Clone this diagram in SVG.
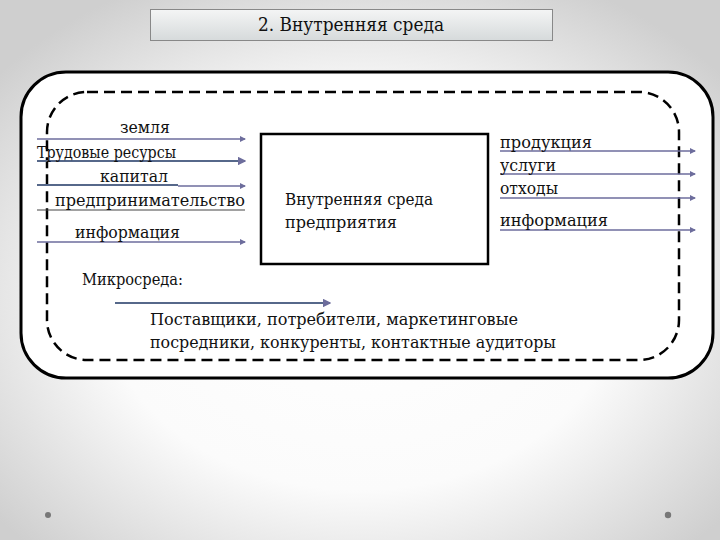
<svg xmlns="http://www.w3.org/2000/svg" width="720" height="540" viewBox="0 0 720 540">
<defs>
<radialGradient id="bg" cx="50%" cy="55%" r="65%">
<stop offset="0" stop-color="#ffffff"/>
<stop offset="0.55" stop-color="#fbfbfb"/>
<stop offset="1" stop-color="#cfcfcf"/>
</radialGradient>
<linearGradient id="tg" x1="0" y1="0" x2="0" y2="1">
<stop offset="0" stop-color="#f4f5f5"/>
<stop offset="1" stop-color="#d6dadb"/>
</linearGradient>
<marker id="ah" viewBox="0 0 6 6" refX="5" refY="3" markerWidth="4" markerHeight="4" orient="auto">
<path d="M0,0 L6,3 L0,6 z" fill="#6d6d9c"/>
</marker>
<style>
.ln{stroke:#6d6d9c;stroke-width:1.5;fill:none;}
.lnd{stroke:#56688a;stroke-width:2.2;fill:none;}
</style>
</defs>
<rect width="720" height="540" fill="url(#bg)"/>
<circle cx="48" cy="515" r="3" fill="#777"/>
<circle cx="668" cy="515" r="3.2" fill="#777"/>

<g font-family="'DejaVu Serif', 'Liberation Serif', serif" fill="#111">
<g id="title">
<rect x="150.5" y="9.5" width="402" height="31" fill="url(#tg)" stroke="#888" stroke-width="1"/>
<text x="351" y="31" text-anchor="middle" font-size="19" textLength="186" lengthAdjust="spacingAndGlyphs" fill="#111">2. Внутренняя среда</text>
</g>

<g id="outer">
<rect x="21" y="72" width="692" height="306" rx="45" fill="#fff" stroke="#000" stroke-width="3"/>
</g>
<g id="micro-border">
<rect x="47" y="92" width="632" height="268" rx="40" fill="none" stroke="#000" stroke-width="2.5" stroke-dasharray="11,6"/>
</g>

<g id="enterprise" font-size="16">
<rect x="261" y="134" width="227" height="130" fill="#fff" stroke="#000" stroke-width="2.5"/>
<text x="285" y="205" textLength="148" lengthAdjust="spacingAndGlyphs">Внутренняя среда</text>
<text x="285" y="228" textLength="112" lengthAdjust="spacingAndGlyphs">предприятия</text>
</g>

<g id="connectors">
<line class="ln" x1="37" y1="139" x2="245" y2="139" marker-end="url(#ah)"/>
<line class="lnd" x1="37" y1="161" x2="245" y2="161" marker-end="url(#ah)"/>
<line class="lnd" x1="37" y1="185" x2="178" y2="185"/>
<line class="ln" x1="178" y1="186" x2="245" y2="186" marker-end="url(#ah)"/>
<line x1="37" y1="210" x2="245" y2="210" stroke="#444" stroke-width="1.2"/>
<line class="ln" x1="37" y1="242" x2="245" y2="242" marker-end="url(#ah)"/>
<line class="ln" x1="500" y1="151" x2="695" y2="151" marker-end="url(#ah)"/>
<line class="ln" x1="500" y1="174" x2="695" y2="174" marker-end="url(#ah)"/>
<line class="ln" x1="500" y1="198" x2="695" y2="198" marker-end="url(#ah)"/>
<line class="ln" x1="500" y1="230" x2="695" y2="230" marker-end="url(#ah)"/>
<line class="lnd" x1="115" y1="303" x2="330" y2="303" marker-end="url(#ah)"/>
</g>

<g id="inputs" font-size="16">
<text x="120" y="133" textLength="50" lengthAdjust="spacingAndGlyphs">земля</text>
<text x="37" y="158" textLength="139" lengthAdjust="spacingAndGlyphs">Трудовые ресурсы</text>
<text x="100" y="182" textLength="68" lengthAdjust="spacingAndGlyphs">капитал</text>
<text x="55" y="206" textLength="190" lengthAdjust="spacingAndGlyphs">предпринимательство</text>
<text x="75" y="238" textLength="105" lengthAdjust="spacingAndGlyphs">информация</text>
</g>

<g id="outputs" font-size="16">
<text x="500" y="148" textLength="92" lengthAdjust="spacingAndGlyphs">продукция</text>
<text x="500" y="171" textLength="56" lengthAdjust="spacingAndGlyphs">услуги</text>
<text x="500" y="194" textLength="58" lengthAdjust="spacingAndGlyphs">отходы</text>
<text x="500" y="226" textLength="108" lengthAdjust="spacingAndGlyphs">информация</text>
</g>

<g id="microenv" font-size="16">
<text x="82" y="285" textLength="101" lengthAdjust="spacingAndGlyphs">Микросреда:</text>
<text x="150" y="325" textLength="368" lengthAdjust="spacingAndGlyphs">Поставщики, потребители, маркетинговые</text>
<text x="150" y="348" textLength="406" lengthAdjust="spacingAndGlyphs">посредники, конкуренты, контактные аудиторы</text>
</g>
</g>
</svg>
